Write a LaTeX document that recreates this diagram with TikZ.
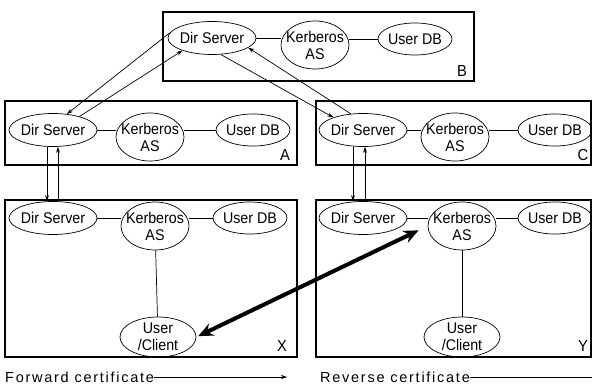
\documentclass[tikz,border=0pt]{standalone}
\usepackage{fontspec}
\setmainfont{Liberation Sans}[FakeStretch=0.92]
\newfontfamily\legendfont[LetterSpace=12]{Liberation Sans}
\usetikzlibrary{shapes.geometric,arrows.meta}

\begin{document}
\begin{tikzpicture}[x=1pt,y=-1pt,
  every node/.style={font=\fontsize{15.5}{17}\selectfont},
  grp/.style={draw, line width=1.4pt},
  ell/.style={draw, ellipse, inner xsep=-12pt, inner ysep=-3pt, line width=0.7pt, align=center},
  ds/.style={ell, minimum width=88pt, minimum height=33pt},
  kb/.style={ell, minimum width=68pt, minimum height=48pt},
  db/.style={ell, minimum width=74pt, minimum height=32pt},
  uc/.style={ell, minimum width=76pt, minimum height=40pt},
  link/.style={line width=0.7pt},
  msg/.style={link, -{Stealth[length=6pt,width=4pt]}},
  tag/.style={font=\fontsize{16}{18}\selectfont},
  note/.style={font=\legendfont\fontsize{14.5}{16}\selectfont, anchor=west, inner sep=0pt},
  heavy/.style={line width=4pt, {Stealth[length=15pt,width=13pt]}-{Stealth[length=15pt,width=13pt]}}
]
\useasboundingbox (0,0) rectangle (592,385);

% realm boxes
\draw[grp] (163,12) rectangle (474,81);
\draw[grp] (5,101) rectangle (297,165);
\draw[grp] (316,101) rectangle (591,165);
\draw[grp] (5,200) rectangle (297,357);
\draw[grp] (316,200) rectangle (591,357);

\node[tag] (lB) at (462,71) {B};
\node[tag] (lA) at (285,155) {A};
\node[tag] (lC) at (583,155) {C};
\node[tag] (lX) at (282,346) {X};
\node[tag] (lY) at (583,346) {Y};

% realm B
\node[ds] (bds) at (212,38) {Dir Server};
\node[kb] (bk)  at (315,45) {Kerberos\\AS};
\node[db] (bdb) at (415,39) {User DB};
% realm A
\node[ds] (ads) at (53,130) {Dir Server};
\node[kb] (ak)  at (150,137) {Kerberos\\AS};
\node[db] (adb) at (253,130) {User DB};
% realm C
\node[ds] (cds) at (363,130) {Dir Server};
\node[kb] (ck)  at (455,137) {Kerberos\\AS};
\node[db] (cdb) at (555,130) {User DB};
% realm X
\node[ds] (xds) at (53,218) {Dir Server};
\node[kb] (xk)  at (155,226) {Kerberos\\AS};
\node[db] (xdb) at (250,218) {User DB};
\node[uc] (xuc) at (158,337) {User\\/Client};
% realm Y
\node[ds] (yds) at (363,218) {Dir Server};
\node[kb] (yk)  at (462,226) {Kerberos\\AS};
\node[db] (ydb) at (555,218) {User DB};
\node[uc] (yuc) at (462,337) {User\\/Client};

% links inside each realm
\foreach \d/\k/\u in {bds/bk/bdb, ads/ak/adb, cds/ck/cdb, xds/xk/xdb, yds/yk/ydb}{
  \draw[link] (\d.east) -- (\d.east -| \k.west);
  \draw[link] (\u.west -| \k.east) -- (\u.west);
}
\draw[link] (xk) -- (xuc);
\draw[link] (yk) -- (yuc);

% certificate exchange between directory servers
\draw[msg] (bds.173) -- (ads.49);
\draw[msg] (ads.27) -- (bds.203);
\draw[msg] (bds.298) -- (cds.157);
\draw[msg] (cds.127) -- (bds.345);
\draw[msg] ([xshift=-6pt]ads.south) -- ([xshift=-6pt]xds.north);
\draw[msg] ([xshift=5pt]xds.north) -- ([xshift=5pt]ads.south);
\draw[msg] ([xshift=-10pt]cds.south) -- ([xshift=-10pt]yds.north);
\draw[msg] ([xshift=2pt]yds.north) -- ([xshift=2pt]cds.south);

% cross-realm path
\draw[heavy, shorten <=2pt, shorten >=10pt] (xuc.east) -- (yk.west);

% legend
\node[note] (fwd) at (5,377) {Forward certificate};
\coordinate (fwdEnd) at (287,377);
\draw[msg] (fwd.east) -- (fwdEnd);
\node[note] (rev) at (320,377) {Reverse certificate};
\coordinate (revEnd) at (592,377);
\draw[link] (rev.east) -- (revEnd);
\end{tikzpicture}
\end{document}
